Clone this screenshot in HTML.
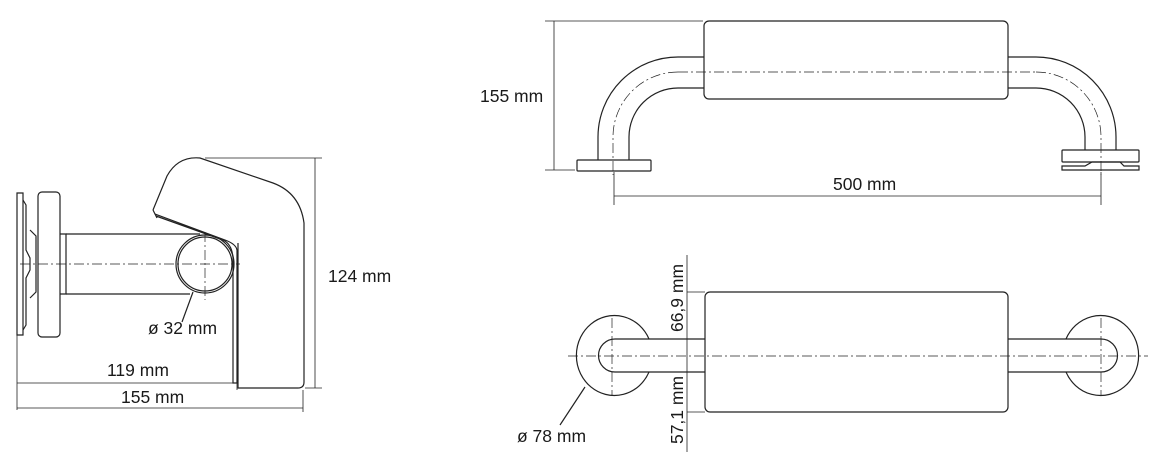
<!DOCTYPE html>
<html><head><meta charset="utf-8"><style>
body{margin:0;background:#fff}
svg{display:block}
text{font-family:"Liberation Sans",sans-serif;font-size:17.5px;fill:#1a1a1a}
</style></head><body>
<svg width="1151" height="463" viewBox="0 0 1151 463" xmlns="http://www.w3.org/2000/svg">
<g fill="none" stroke="#222" stroke-width="1.2">
<path d="M17 193 H23 V335 H17 Z"/>
<path d="M23 200 L26 205 V250 L30 258 V270 L26 278 V325 L23 330"/>
<path d="M30 230 L36 236 V292 L30 298"/>
<rect x="38" y="192" width="22" height="145" rx="4"/>
<path d="M60 234 H66 V294 H60"/>
<path d="M66 234 H200 M66 294 H190"/>
<circle cx="205" cy="264" r="29"/>
<circle cx="205" cy="264" r="27"/>
<path d="M153 210 L167 176 Q178 156 200 158 L273 183 Q300 193 304 223 V382 Q304 388 298 388 H238 V243"/>
<path d="M153 210 L155 214 L225 240 Q236 244 237 250 V383 H233 V258 Q232 244 223 240 L156 216"/>
<path d="M155 214 L157 218"/>
<path d="M193 292 L182 322"/>
<g stroke-width="0.8">
<path d="M205 158 H322 M315 158 V388 M305 388 H322"/>
<path d="M17 335 V410 M17 383 H237 M237 380 V390"/>
<path d="M17 408 H303 M303 390 V412"/>
</g>
<path d="M20 264 H240 M205 232 V300" stroke-width="0.7" stroke-dasharray="10,3,2,3"/>

<rect x="704" y="21" width="304" height="78" rx="5"/>
<path d="M704 57 H678 A80 80 0 0 0 598 137 V160"/>
<path d="M704 88 H678 A49 49 0 0 0 629 137 V160"/>
<path d="M1008 57 H1036 A80 80 0 0 1 1116 137 V150"/>
<path d="M1008 88 H1036 A49 49 0 0 1 1085 137 V150"/>
<rect x="577" y="160" width="74" height="11" rx="1"/>
<rect x="1062" y="150" width="77" height="12" rx="1"/>
<path d="M1062 166 H1085 L1092 162 H1120 L1124 166 H1139 V170 H1062 Z"/>
<g stroke-width="0.7" stroke-dasharray="10,3,2,3">
<path d="M678 72 A65 65 0 0 0 613 137 V175"/>
<path d="M1036 72 A65 65 0 0 1 1101 137 V175"/>
<path d="M678 72 H1036"/>
</g>
<g stroke-width="0.8">
<path d="M545 21 H703 M554 21 V170 M545 170 H575"/>
<path d="M614 172 V205 M1101 172 V205 M614 196 H1101"/>
</g>

<rect x="705" y="292" width="303" height="120" rx="5"/>
<path d="M705 339 H615 A16.5 16.5 0 0 0 615 372 H705"/>
<path d="M1008 339 H1101 A16.5 16.5 0 0 1 1101 372 H1008"/>
<path d="M649 339 A38 40 0 1 0 649 372" stroke-width="1.2"/>
<path d="M1066 339 A38 40 0 1 1 1066 372" stroke-width="1.2"/>
<path d="M585 387 L560 425"/>
<g stroke-width="0.7" stroke-dasharray="10,3,2,3">
<path d="M568 356 H1148"/>
<path d="M612 318 V396 M1101 318 V396"/>
</g>
<g stroke-width="0.8">
<path d="M687 255 V452 M687 292 H705 M687 412 H705"/>
</g>
</g>

<text x="328" y="282">124 mm</text>
<text x="107" y="376">119 mm</text>
<text x="121" y="403">155 mm</text>
<text x="148" y="334">ø 32 mm</text>
<text x="480" y="102">155 mm</text>
<text x="833" y="190">500 mm</text>
<text x="517" y="442">ø 78 mm</text>
<text transform="translate(683,298) rotate(-90)" text-anchor="middle">66,9 mm</text>
<text transform="translate(683,410) rotate(-90)" text-anchor="middle">57,1 mm</text>
</svg>
</body></html>
